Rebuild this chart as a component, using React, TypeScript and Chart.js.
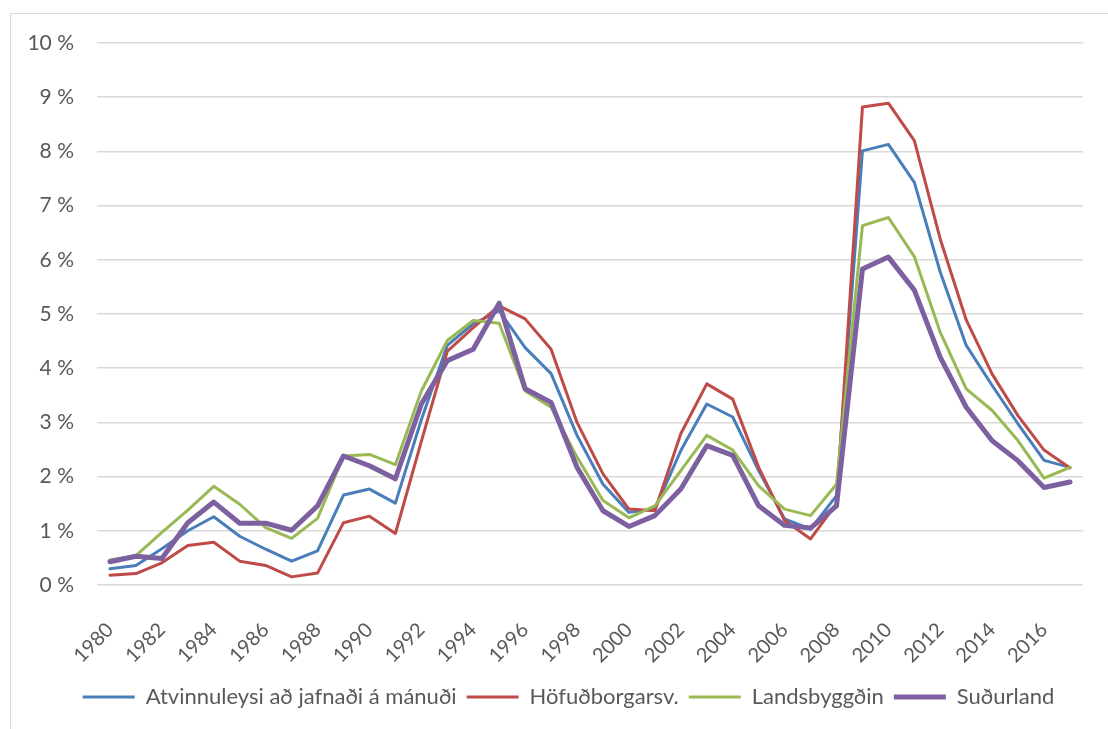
import React, { useEffect, useRef } from "react";
import { Chart, registerables } from "chart.js";

Chart.register(...registerables);

const years: string[] = [
  "1980","1981","1982","1983","1984","1985","1986","1987","1988","1989",
  "1990","1991","1992","1993","1994","1995","1996","1997","1998","1999",
  "2000","2001","2002","2003","2004","2005","2006","2007","2008","2009",
  "2010","2011","2012","2013","2014","2015","2016","2017",
];

const atvinnuleysi: number[] = [
  0.30, 0.36, 0.67, 1.00, 1.26, 0.90, 0.66, 0.44, 0.63, 1.66,
  1.77, 1.51, 3.05, 4.42, 4.82, 5.06, 4.38, 3.90, 2.76, 1.86,
  1.34, 1.40, 2.48, 3.34, 3.10, 2.11, 1.22, 1.03, 1.65, 8.01,
  8.13, 7.43, 5.77, 4.42, 3.68, 2.97, 2.30, 2.17,
];

const hofudborgarsv: number[] = [
  0.18, 0.21, 0.41, 0.73, 0.79, 0.44, 0.36, 0.15, 0.22, 1.15,
  1.27, 0.95, 2.65, 4.31, 4.75, 5.15, 4.91, 4.35, 3.00, 2.05,
  1.40, 1.37, 2.79, 3.71, 3.43, 2.17, 1.19, 0.85, 1.50, 8.82,
  8.89, 8.20, 6.38, 4.89, 3.89, 3.12, 2.49, 2.16,
];

const landsbyggdin: number[] = [
  0.46, 0.54, 0.97, 1.38, 1.82, 1.49, 1.06, 0.86, 1.23, 2.38,
  2.41, 2.22, 3.58, 4.51, 4.88, 4.83, 3.58, 3.28, 2.36, 1.56,
  1.24, 1.46, 2.11, 2.76, 2.49, 1.83, 1.40, 1.28, 1.86, 6.63,
  6.78, 6.06, 4.66, 3.62, 3.22, 2.66, 1.97, 2.17,
];

const sudurland: number[] = [
  0.43, 0.53, 0.49, 1.15, 1.53, 1.14, 1.14, 1.01, 1.46, 2.38,
  2.20, 1.96, 3.34, 4.14, 4.35, 5.20, 3.62, 3.37, 2.17, 1.37,
  1.08, 1.28, 1.77, 2.57, 2.39, 1.46, 1.10, 1.05, 1.46, 5.83,
  6.05, 5.44, 4.20, 3.28, 2.66, 2.29, 1.80, 1.90,
];

const seriesNames: string[] = [
  "Atvinnuleysi að jafnaði á mánuði",
  "Höfuðborgarsv.",
  "Landsbyggðin",
  "Suðurland",
];

const FONT = "Lato";
const TEXT = "#595959";

const shiftLegend = {
  id: "shiftLegend",
  afterLayout(chart: any) {
    const l = chart.legend;
    if (l) {
      l.left += 27;
      l.right += 27;
    }
  },
};

export default function App() {
  const ref = useRef<HTMLCanvasElement | null>(null);

  useEffect(() => {
    if (!ref.current) return;
    const mk = (label: string, data: number[], color: string, width: number, order: number) => ({
      label,
      data,
      borderColor: color,
      backgroundColor: color,
      borderWidth: width,
      pointRadius: 0,
      pointHoverRadius: 0,
      tension: 0,
      borderJoinStyle: "round" as const,
      borderCapStyle: "round" as const,
      order,
    });
    const chart = new Chart(ref.current, {
      type: "line",
      data: {
        labels: years,
        datasets: [
          mk(seriesNames[0], atvinnuleysi, "#4A7EBB", 3, 3),
          mk(seriesNames[1], hofudborgarsv, "#BE4B48", 3, 2),
          mk(seriesNames[2], landsbyggdin, "#98B954", 3, 1),
          mk(seriesNames[3], sudurland, "#7D60A0", 5, 0),
        ],
      },
      options: {
        animation: false,
        responsive: false,
        maintainAspectRatio: false,
        layout: { padding: { top: 43, right: 25, left: 0, bottom: 11 } },
        plugins: {
          tooltip: { enabled: false },
          legend: {
            position: "bottom",
            labels: {
              usePointStyle: true,
              pointStyle: "line",
              pointStyleWidth: 52,
              boxHeight: 22,
              padding: 10,
              color: TEXT,
              font: { family: FONT, size: 22 },
              sort: (a: any, b: any) => a.datasetIndex - b.datasetIndex,
            },
          },
        },
        scales: {
          x: {
            type: "category",
            offset: true,
            grid: { display: false },
            border: { display: false },
            ticks: {
              autoSkip: false,
              maxRotation: 45,
              minRotation: 45,
              padding: 25,
              color: TEXT,
              font: { family: FONT, size: 20 },
              callback: (_v: any, i: number) => (i % 2 === 0 ? years[i] : ""),
            },
            afterFit: (s: any) => {
              s.height = 91;
              s.paddingLeft = 0;
              s.paddingRight = 0;
            },
          },
          y: {
            min: 0,
            max: 10,
            grid: { color: "#D9D9D9", lineWidth: 1.5, drawTicks: false },
            border: { display: false },
            ticks: {
              stepSize: 1,
              padding: 23,
              color: TEXT,
              font: { family: FONT, size: 21 },
              callback: (v: any) => `${v} %`,
            },
            afterFit: (s: any) => {
              s.width = 97;
            },
          },
        },
      },
      plugins: [shiftLegend],
    });
    return () => chart.destroy();
  }, []);

  return (
    <div style={{ position: "fixed", left: 0, top: 0, width: 1108, height: 729, overflow: "hidden", background: "#fff" }}>
      <div
        style={{
          position: "absolute",
          left: 10,
          top: 13,
          width: 1098,
          height: 716,
          borderTop: "1.5px solid #D9D9D9",
          borderLeft: "1.5px solid #D9D9D9",
          boxSizing: "border-box",
        }}
      />
      <canvas ref={ref} width={1108} height={729} style={{ position: "absolute", left: 0, top: 0 }} />
    </div>
  );
}
